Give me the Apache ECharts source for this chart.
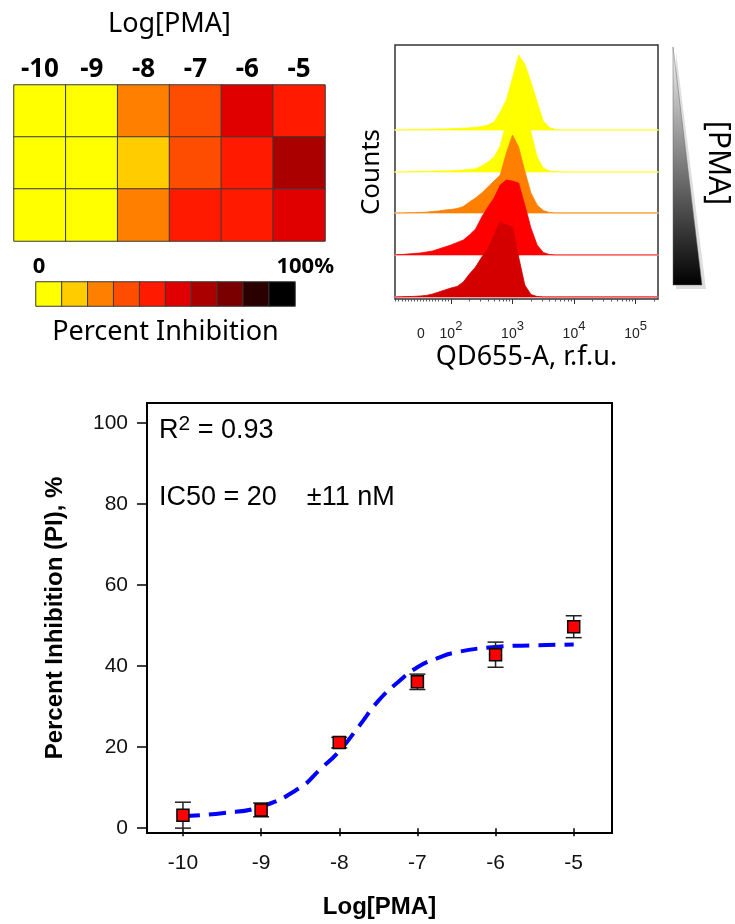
<!DOCTYPE html>
<html>
<head>
<meta charset="utf-8">
<script src="https://cdn.jsdelivr.net/npm/echarts@6/dist/echarts.min.js"></script>
<style>
html, body { margin: 0; padding: 0; background: #fff; }
#main { width: 735px; height: 924px; }
</style>
</head>
<body>
<div id="main"></div>
<script>
// ---- heatmap (top left) ----
var heatCols = ['-10', '-9', '-8', '-7', '-6', '-5'];
var heatRows = ['a', 'b', 'c'];
var heatLevels = [
    [0, 0, 2, 3, 5, 4],
    [0, 0, 1, 3, 4, 6],
    [0, 0, 2, 4, 4, 5]
];
var levelColors = ['#ffff00', '#ffcc00', '#ff8000', '#ff4d00', '#ff1a00', '#e00000', '#aa0000', '#7a0000', '#2a0000', '#000000'];
var scaleLevels = [0, 1, 2, 3, 4, 5, 6, 7, 8, 9];

// ---- histograms (top right), x in decades of r.f.u. ----
var histX = [1.1, 1.2, 1.3, 1.4, 1.5, 1.6, 1.7, 1.8, 1.9, 2.0, 2.1, 2.2, 2.3, 2.4, 2.5, 2.6, 2.7, 2.8, 2.9, 3.0, 3.1, 3.2, 3.3, 3.4, 3.5, 3.6, 3.7, 3.8, 3.9, 5.36];
var lane1 = [0, 0, 0.3, 0.4, 0.5, 0.6, 0.8, 1, 1, 1.2, 1.5, 1.8, 2.2, 2.6, 3.5, 5, 8, 18, 30, 52, 75, 66, 48, 28, 9, 2.5, 0.5, 0, 0, 0];
var lane2 = [0, 0, 0.3, 0.4, 0.5, 0.6, 0.8, 1, 1, 1.2, 1.5, 2, 2.6, 3.2, 6, 10, 15, 26, 50, 68, 72, 62, 40, 15, 4, 1, 0.3, 0, 0, 0];
var lane3 = [0, 0, 0.2, 0.3, 0.5, 0.8, 1.5, 2, 3, 3.5, 4.5, 6.5, 11, 15, 20, 26, 32, 38, 60, 78, 66, 42, 20, 8, 2.5, 0.5, 0, 0, 0, 0];
var lane4 = [0.3, 0.5, 1, 1.5, 2, 3, 4, 6, 8, 10, 12.5, 15, 20, 26, 38, 48, 57, 70, 75, 74, 72, 50, 27, 10, 2.5, 0.5, 0, 0, 0, 0];
var lane5 = [0, 0.2, 0.4, 0.6, 1, 1.6, 3, 5, 7, 9, 10.6, 15, 23, 30, 40, 48, 62, 76, 72, 70, 40, 12, 2.5, 0.5, 0, 0, 0, 0, 0, 0];
var lanes = [lane1, lane2, lane3, lane4, lane5];
var laneFill = ['#ffff00', '#ffff00', '#ff8000', '#ff0000', '#d40000'];
var laneBase = ['#ffff88', '#ffff99', '#ffc890', '#ff9a9a', '#ff8080'];
var histTickPos = [1.51, 2, 3, 4, 5];
var histTickBase = ['0', '10', '10', '10', '10'];
var histTickSup = ['', '2', '3', '4', '5'];

// ---- dose response (bottom) ----
var logPMA = [-10, -9, -8, -7, -6, -5];
var piMean = [3.2, 4.5, 21.1, 36.1, 42.8, 49.7];
var piErr = [3.2, 1.7, 1.3, 1.9, 3.1, 2.7];
var fitX = [-10, -9.5, -9, -8.5, -8.25, -8, -7.75, -7.5, -7.25, -7, -6.75, -6.5, -6, -5.5, -5];
var fitY = [3.0, 3.7, 5.3, 10.0, 14.4, 19.0, 25.1, 31.4, 36.0, 39.7, 41.9, 43.4, 44.7, 45.1, 45.3];
var yTicks = [0, 20, 40, 60, 80, 100];

var calibri = 'Noto Sans';
var arial = 'Liberation Sans';

var chart = echarts.init(document.getElementById('main'));

// minor ticks of the flow axis
var histMinor = [];
for (var d = 1.1; d < 1.99; d += 0.05) histMinor.push(d);
for (var dec = 2; dec <= 5; dec++) {
    for (var k = 2; k < 10; k++) {
        var v = dec + Math.log10(k);
        if (v < 5.36) histMinor.push(v);
    }
}

var heatData = [];
heatRows.forEach(function (r, ri) {
    heatCols.forEach(function (c, ci) {
        heatData.push([ci, ri, heatLevels[ri][ci]]);
    });
});
var barData = scaleLevels.map(function (l, i) { return [i, 0, l]; });

var grids = [
    { left: 14, top: 85, width: 311, height: 156 },
    { left: 36, top: 282, width: 259, height: 24 },
    { left: 395, top: 45, width: 263, height: 254, show: true, borderColor: '#333', borderWidth: 1.5 }
];
var laneBottoms = [130, 172, 213, 255, 297];
laneBottoms.forEach(function (b) {
    grids.push({ left: 395, top: b - 80, width: 263, height: 80 });
});
grids.push({ left: 147, top: 403, width: 465, height: 430, show: true, borderColor: '#000', borderWidth: 2 });

var xAxes = [
    {
        type: 'category', gridIndex: 0, data: heatCols, position: 'top',
        axisLine: { show: false }, axisTick: { show: false },
        axisLabel: { interval: 0, hideOverlap: false, fontFamily: calibri, fontWeight: 'bold', fontSize: 26, color: '#000', margin: 2 },
        name: 'Log[PMA]', nameLocation: 'middle', nameGap: 47,
        nameTextStyle: { fontFamily: calibri, fontSize: 27, color: '#000' }
    },
    {
        type: 'category', gridIndex: 1, data: scaleLevels,
        axisLine: { show: false }, axisTick: { show: false }, axisLabel: { show: false },
        name: 'Percent Inhibition', nameLocation: 'middle', nameGap: 13,
        nameTextStyle: { fontFamily: calibri, fontSize: 27, color: '#000' }
    },
    {
        type: 'value', gridIndex: 2, min: 1.09, max: 5.365, position: 'bottom',
        splitLine: { show: false }, axisLine: { show: false },
        axisTick: { show: true, length: 5, customValues: [2, 3, 4, 5], lineStyle: { color: '#333' } },
        axisLabel: {
            customValues: histTickPos, margin: 21,
            formatter: function (val) {
                var i = 0;
                histTickPos.forEach(function (p, j) { if (Math.abs(p - val) < 1e-6) i = j; });
                return histTickSup[i] ? '{b|' + histTickBase[i] + '}{s|' + histTickSup[i] + '}' : '{b|' + histTickBase[i] + '}';
            },
            rich: {
                b: { fontFamily: arial, fontSize: 14, color: '#222', lineHeight: 28, verticalAlign: 'middle' },
                s: { fontFamily: arial, fontSize: 13, color: '#222', lineHeight: 11, verticalAlign: 'top' }
            }
        },
        name: 'QD655-A, r.f.u.', nameLocation: 'middle', nameGap: 45,
        nameTextStyle: { fontFamily: calibri, fontSize: 27, color: '#000' }
    },
    {
        type: 'value', gridIndex: 2, min: 1.09, max: 5.365, position: 'bottom',
        splitLine: { show: false }, axisLine: { show: false }, axisLabel: { show: false },
        axisTick: { show: true, length: 2.5, customValues: histMinor, lineStyle: { color: '#555' } }
    }
];
lanes.forEach(function (l, i) {
    xAxes.push({
        type: 'value', gridIndex: 3 + i, min: 1.09, max: 5.365,
        axisLine: { show: true, lineStyle: { color: laneBase[i], width: 1.5 } },
        axisTick: { show: false }, axisLabel: { show: false }, splitLine: { show: false }
    });
});
xAxes.push({
    type: 'value', gridIndex: 8, min: -10.46, max: -4.51,
    splitLine: { show: false }, axisLine: { show: false },
    axisTick: { show: true, length: 8, customValues: logPMA, lineStyle: { color: '#000', width: 1.5 } },
    axisLabel: { customValues: logPMA, fontFamily: arial, fontSize: 21, color: '#111', margin: 20 },
    name: 'Log[PMA]', nameLocation: 'middle', nameGap: 62,
    nameTextStyle: { fontFamily: arial, fontSize: 24, fontWeight: 'bold', color: '#000' }
});

var yAxes = [
    { type: 'category', gridIndex: 0, data: heatRows, inverse: true, show: false },
    { type: 'category', gridIndex: 1, data: ['bar'], show: false },
    {
        type: 'value', gridIndex: 2, min: 0, max: 1,
        axisLine: { show: false }, axisTick: { show: false }, axisLabel: { show: false }, splitLine: { show: false },
        name: 'Counts', nameLocation: 'middle', nameGap: 10,
        nameTextStyle: { fontFamily: calibri, fontSize: 26, color: '#000' }
    }
];
lanes.forEach(function (l, i) {
    yAxes.push({ type: 'value', gridIndex: 3 + i, min: 0, max: 80, show: false });
});
yAxes.push({
    type: 'value', gridIndex: 8, min: -1.2, max: 104.9,
    splitLine: { show: false }, axisLine: { show: false },
    axisTick: { show: true, length: 10, customValues: yTicks, lineStyle: { color: '#000', width: 1.5 } },
    axisLabel: { customValues: yTicks, fontFamily: arial, fontSize: 21, color: '#111', margin: 19 },
    name: 'Percent Inhibition (PI), %', nameLocation: 'middle', nameGap: 80,
    nameTextStyle: { fontFamily: arial, fontSize: 24, fontWeight: 'bold', color: '#000' }
});

var series = [
    {
        type: 'heatmap', xAxisIndex: 0, yAxisIndex: 0, data: heatData,
        itemStyle: { borderColor: '#3a3a3a', borderWidth: 1 }
    },
    {
        type: 'heatmap', xAxisIndex: 1, yAxisIndex: 1, data: barData,
        itemStyle: { borderColor: '#3a3a3a', borderWidth: 1 }
    }
];
lanes.forEach(function (l, i) {
    series.push({
        type: 'line', xAxisIndex: 4 + i, yAxisIndex: 3 + i,
        data: histX.map(function (x, j) { return [x, l[j]]; }),
        symbol: 'none', z: 3 + i,
        lineStyle: { color: laneFill[i], width: 0.8 },
        areaStyle: { color: laneFill[i], opacity: 1 }
    });
});
series.push({
    type: 'line', xAxisIndex: 9, yAxisIndex: 8, z: 3,
    data: fitX.map(function (x, j) { return [x, fitY[j]]; }),
    smooth: true, symbol: 'none',
    lineStyle: { color: '#0000ff', width: 4, type: [17, 9] }
});
series.push({
    type: 'custom', xAxisIndex: 9, yAxisIndex: 8, z: 4,
    data: logPMA.map(function (x, j) { return [x, piMean[j] - piErr[j], piMean[j] + piErr[j]]; }),
    renderItem: function (params, api) {
        var top = api.coord([api.value(0), api.value(2)]);
        var bot = api.coord([api.value(0), api.value(1)]);
        var w = 8;
        var st = { stroke: '#222', lineWidth: 1.5 };
        return {
            type: 'group', children: [
                { type: 'line', shape: { x1: top[0], y1: top[1], x2: bot[0], y2: bot[1] }, style: st },
                { type: 'line', shape: { x1: top[0] - w, y1: top[1], x2: top[0] + w, y2: top[1] }, style: st },
                { type: 'line', shape: { x1: bot[0] - w, y1: bot[1], x2: bot[0] + w, y2: bot[1] }, style: st }
            ]
        };
    }
});
series.push({
    type: 'scatter', xAxisIndex: 9, yAxisIndex: 8, z: 5,
    data: logPMA.map(function (x, j) { return [x, piMean[j]]; }),
    symbol: 'rect', symbolSize: 12,
    itemStyle: { color: '#ff0000', borderColor: '#000', borderWidth: 1.5, opacity: 1 }
});

var option = {
    backgroundColor: '#fff',
    animation: false,
    grid: grids,
    xAxis: xAxes,
    yAxis: yAxes,
    visualMap: {
        type: 'piecewise', show: false, dimension: 2, seriesIndex: [0, 1],
        pieces: levelColors.map(function (c, i) { return { value: i, color: c }; })
    },
    series: series,
    graphic: [
        { type: 'text', x: 39, y: 267, style: { text: '0', font: 'bold 22px "Noto Sans"', fill: '#000', align: 'center', verticalAlign: 'middle' } },
        { type: 'text', x: 334, y: 267, style: { text: '100%', font: 'bold 22px "Noto Sans"', fill: '#000', align: 'right', verticalAlign: 'middle' } },
        { type: 'polygon', shape: { points: [[676, 52], [676, 289], [706, 289]] }, style: { fill: '#dedede' } },
        {
            type: 'polygon', shape: { points: [[673, 47], [673, 285], [702, 285]] },
            style: {
                fill: { type: 'linear', x: 0, y: 0, x2: 0, y2: 1, colorStops: [{ offset: 0, color: '#f4f4f4' }, { offset: 1, color: '#000' }] },
                stroke: '#666', lineWidth: 0.5
            }
        },
        { type: 'text', x: 718, y: 163, rotation: -Math.PI / 2, style: { text: '[PMA]', font: '30px "Noto Sans"', fill: '#000', align: 'center', verticalAlign: 'middle' } },
        {
            type: 'text', x: 159, y: 431,
            style: {
                text: '{a|R}{s|2}{a| = 0.93}', align: 'left', verticalAlign: 'middle',
                rich: {
                    a: { fontFamily: arial, fontSize: 27, fill: '#000', color: '#000', lineHeight: 34 },
                    s: { fontFamily: arial, fontSize: 21, fill: '#000', color: '#000', lineHeight: 15, verticalAlign: 'top' }
                }
            }
        },
        { type: 'text', x: 159, y: 498, style: { text: 'IC50 = 20    \u00b111 nM', font: '27px "Liberation Sans"', fill: '#000', align: 'left', verticalAlign: 'middle' } }
    ]
};

chart.setOption(option);
</script>
</body>
</html>
